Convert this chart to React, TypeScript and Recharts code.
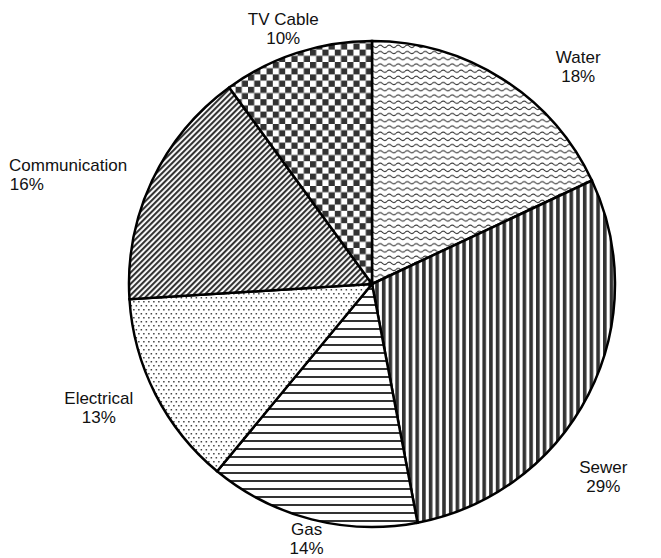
import { PieChart, Pie, Cell } from 'recharts';

const CATEGORIES = ['Water', 'Sewer', 'Gas', 'Electrical', 'Communication', 'TV Cable'];
const SHARES = [18, 29, 14, 13, 16, 10];
const PATTERNS = ['wave', 'vstripe', 'hstripe', 'dots', 'diag', 'checker'];

// label placement tweaks: degrees added to the slice mid angle, and distance past the rim
const LABEL_SHIFT = [11.2, 12.8, 0, 2.6, -7.7, -1.2];
const LABEL_GAP = [56, 58, 20, 57, 119, 27];

const FONT = '17px "Liberation Sans", Arial, sans-serif';

const data = CATEGORIES.map((name, i) => ({ name, value: SHARES[i], pattern: PATTERNS[i] }));

let ctx: CanvasRenderingContext2D | null = null;
function textWidth(s: string) {
  if (!ctx) ctx = document.createElement('canvas').getContext('2d');
  if (!ctx) return s.length * 9;
  ctx.font = FONT;
  return ctx.measureText(s).width;
}

function SliceLabel(props: any) {
  const { cx, cy, midAngle, outerRadius, index } = props;
  const a = ((90 - midAngle + LABEL_SHIFT[index]) * Math.PI) / 180;
  const d = outerRadius + LABEL_GAP[index];
  const x = cx + d * Math.sin(a);
  const y = cy - d * Math.cos(a);
  const lines = [CATEGORIES[index], SHARES[index] + '%'];
  return (
    <g>
      {lines.map((t, k) => {
        const w = textWidth(t);
        const lx = Math.min(Math.max(x, 9 + w / 2), 652 - w / 2);
        return (
          <text
            key={k}
            x={lx}
            y={y + (k === 0 ? -9.5 : 9.5)}
            textAnchor="middle"
            dominantBaseline="central"
            fill="#111"
            style={{ font: FONT }}
          >
            {t}
          </text>
        );
      })}
    </g>
  );
}

export default function App() {
  return (
    <div style={{ position: 'absolute', left: 0, top: 0, width: 661, height: 558, background: '#fff' }}>
      <PieChart width={661} height={558} margin={{ top: 0, right: 0, bottom: 0, left: 0 }}>
        <defs>
          <pattern id="wave" width="9" height="6.2" patternUnits="userSpaceOnUse">
            <rect width="9" height="6.2" fill="#fff" />
            <path d="M0,3 Q2.25,0.8 4.5,3 T9,3" fill="none" stroke="#333" strokeWidth="1" />
          </pattern>
          <pattern id="vstripe" width="6.7" height="10" patternUnits="userSpaceOnUse">
            <rect width="6.7" height="10" fill="#fff" />
            <rect x="0" width="3.6" height="10" fill="#333" />
          </pattern>
          <pattern id="hstripe" width="10" height="8" patternUnits="userSpaceOnUse">
            <rect width="10" height="8" fill="#fff" />
            <rect y="0" width="10" height="2" fill="#333" />
          </pattern>
          <pattern id="dots" width="5" height="8" patternUnits="userSpaceOnUse">
            <rect width="5" height="8" fill="#fff" />
            <rect x="0.6" y="1" width="1.5" height="1.5" fill="#444" />
            <rect x="3.1" y="5" width="1.5" height="1.5" fill="#444" />
          </pattern>
          <pattern id="diag" width="4" height="4" patternUnits="userSpaceOnUse" patternTransform="rotate(45)">
            <rect width="4" height="4" fill="#fff" />
            <rect width="2.1" height="4" fill="#333" />
          </pattern>
          <pattern id="checker" width="12.4" height="12.4" patternUnits="userSpaceOnUse">
            <rect width="12.4" height="12.4" fill="#fff" />
            <rect x="0" y="0" width="6.2" height="6.2" fill="#333" />
            <rect x="6.2" y="6.2" width="6.2" height="6.2" fill="#333" />
          </pattern>
        </defs>
        <Pie
          data={data}
          dataKey="value"
          nameKey="name"
          cx={372}
          cy={284}
          outerRadius={243}
          startAngle={90}
          endAngle={-270}
          stroke="#000"
          strokeWidth={2.5}
          label={SliceLabel}
          labelLine={false}
          isAnimationActive={false}
        >
          {data.map((d, i) => (
            <Cell key={i} fill={`url(#${d.pattern})`} />
          ))}
        </Pie>
      </PieChart>
    </div>
  );
}
